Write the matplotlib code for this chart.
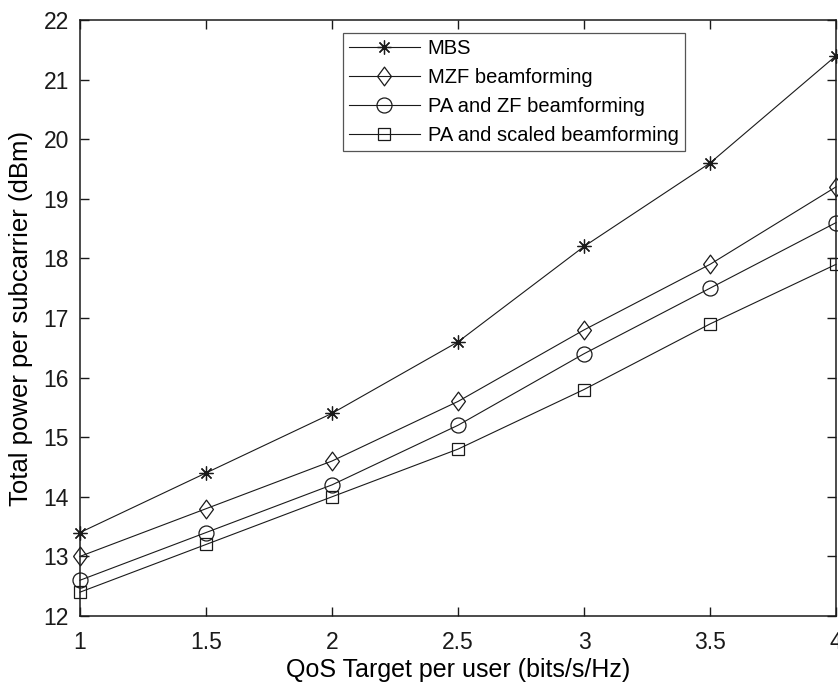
import numpy as np
import matplotlib
matplotlib.use("Agg")
import matplotlib.pyplot as plt

plt.rcParams['font.family'] = ['Liberation Sans', 'DejaVu Sans']

qos = [1, 1.5, 2, 2.5, 3, 3.5, 4]
mbs = [13.4, 14.4, 15.4, 16.6, 18.2, 19.6, 21.4]
mzf = [13.0, 13.8, 14.6, 15.6, 16.8, 17.9, 19.2]
pa_zf = [12.6, 13.4, 14.2, 15.2, 16.4, 17.5, 18.6]
pa_scaled = [12.4, 13.2, 14.0, 14.8, 15.8, 16.9, 17.9]

labels = ["MBS", "MZF beamforming", "PA and ZF beamforming", "PA and scaled beamforming"]

diamond = [(-0.37, 0), (0, 0.5), (0.37, 0), (0, -0.5), (-0.37, 0)]

fig = plt.figure(figsize=(8.38, 6.86), dpi=100)
ax = fig.add_axes([80 / 838, 1 - 616 / 686, 756 / 838, 596 / 686])

lc = '#1a1a1a'
ax.plot(qos, mbs, color=lc, lw=0.8, marker=(8, 2, 0), ms=10, mew=0.9,
        clip_on=False, label=labels[0])
ax.plot(qos, mzf, color=lc, lw=0.8, marker=diamond, ms=13.5, mfc='none', mew=0.9,
        clip_on=False, label=labels[1])
ax.plot(qos, pa_zf, color=lc, lw=0.8, marker='o', ms=10.8, mfc='none', mew=0.9,
        clip_on=False, label=labels[2])
ax.plot(qos, pa_scaled, color=lc, lw=0.8, marker='s', ms=8.6, mfc='none', mew=0.9,
        clip_on=False, label=labels[3])

ax.set_xlim(1, 4)
ax.set_ylim(12, 22)
ax.set_xticks([1, 1.5, 2, 2.5, 3, 3.5, 4])
ax.set_xticklabels(['1', '1.5', '2', '2.5', '3', '3.5', '4'])
ax.set_yticks(np.arange(12, 23, 1))
ax.tick_params(direction='in', length=6.5, width=1, labelsize=16.5, top=True, right=True,
               colors='#1a1a1a')
ax.tick_params(axis='x', pad=11)
ax.tick_params(axis='y', pad=8)
for s in ax.spines.values():
    s.set_linewidth(1.1)
    s.set_color('#1a1a1a')

ax.set_xlabel("QoS Target per user (bits/s/Hz)", fontsize=18)
ax.set_ylabel("Total power per subcarrier (dBm)", fontsize=18.5)
ax.xaxis.set_label_coords(0.5, -(670 - 616) / 596)
ax.xaxis.label.set_va('center')
ax.yaxis.set_label_coords(-(80 - 21) / 756, 0.5)
ax.yaxis.label.set_va('center')

leg = ax.legend(loc='upper left', bbox_to_anchor=(0.348, 0.978), borderaxespad=0,
                fontsize=14.5, handlelength=3.5, handletextpad=0.4, labelspacing=0.5,
                borderpad=0.3, fancybox=False, framealpha=1)
leg.get_frame().set_edgecolor('#555555')
leg.get_frame().set_linewidth(0.9)

fig.savefig("out.png", dpi=100)
